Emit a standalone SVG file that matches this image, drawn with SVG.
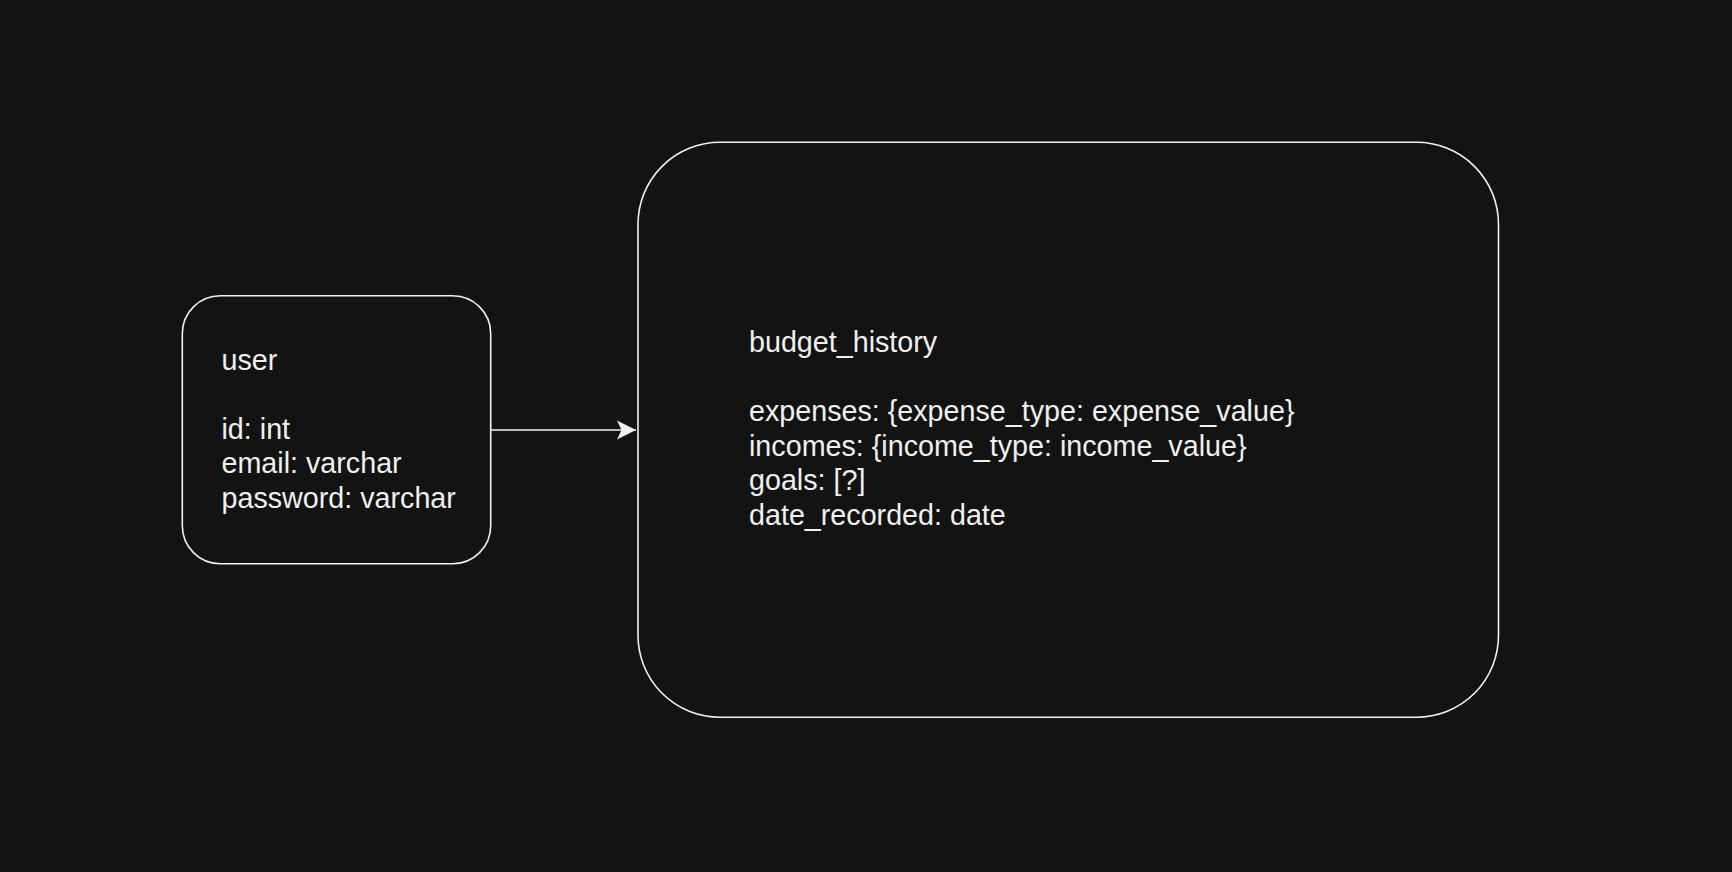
<svg xmlns="http://www.w3.org/2000/svg" width="1732" height="872" viewBox="0 0 1732 872">
<style>
.box{fill:#131313;stroke:#f0f0f0;stroke-width:1.6}
.t{font-family:"Liberation Sans",Arial,Helvetica,sans-serif;font-size:28.7px;fill:#f0f0f0}
.edge{stroke:#f0f0f0;stroke-width:1.6;fill:none}
</style>
<defs>
<marker id="arr" markerUnits="userSpaceOnUse" markerWidth="22" markerHeight="22" refX="19" refY="10" orient="auto">
<path d="M0,0.5 L19,10 L0,19.5 L4.5,10 Z" fill="#f0f0f0"/>
</marker>
</defs>
<rect width="1732" height="872" fill="#131313"/>
<g id="connectors">
<path class="edge" d="M490.7,430 L636,430" marker-end="url(#arr)"/>
</g>
<g id="user">
<rect class="box" x="182.3" y="295.7" width="308.4" height="268" rx="38" ry="38"/>
<text class="t" x="221.5" y="370">user</text>
<text class="t" x="221.5" y="438.5">id: int</text>
<text class="t" x="221.5" y="473">email: varchar</text>
<text class="t" x="221.5" y="507.5">password: varchar</text>
</g>
<g id="budget_history">
<rect class="box" x="638" y="142.3" width="860.5" height="575" rx="82" ry="82"/>
<text class="t" x="749" y="352.3">budget_history</text>
<text class="t" x="749" y="421">expenses: {expense_type: expense_value}</text>
<text class="t" x="749" y="455.5">incomes: {income_type: income_value}</text>
<text class="t" x="749" y="490">goals: [?]</text>
<text class="t" x="749" y="524.5">date_recorded: date</text>
</g>
</svg>
